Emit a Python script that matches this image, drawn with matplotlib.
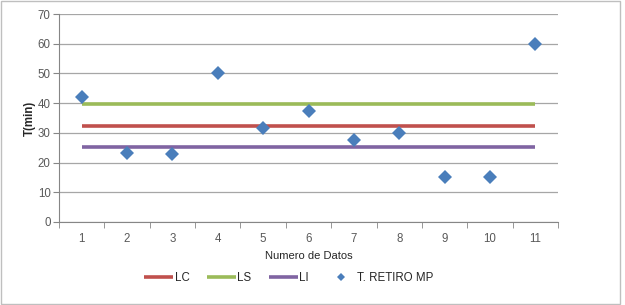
import matplotlib
matplotlib.use("Agg")
import matplotlib.pyplot as plt
from matplotlib.patches import Rectangle

plt.rcParams['font.family'] = ['Liberation Sans', 'DejaVu Sans']

x = [1, 2, 3, 4, 5, 6, 7, 8, 9, 10, 11]
t_retiro = [42, 23.3, 23, 50, 31.8, 37.4, 27.6, 30, 15, 15, 60]
lc = [32.3] * 11
ls = [39.6] * 11
li = [25.1] * 11

fs = 8.3
fig = plt.figure(figsize=(6.25, 3.05), dpi=100)
ax = fig.add_axes([59/625, 83/305, 499/625, 208/305])

ax.plot(x, lc, color='#c0504d', lw=2.6, label='LC', solid_capstyle='butt')
ax.plot(x, ls, color='#9bbb59', lw=2.6, label='LS', solid_capstyle='butt')
ax.plot(x, li, color='#8064a2', lw=2.6, label='LI', solid_capstyle='butt')
ax.plot(x, t_retiro, linestyle='none', marker='D', color='#4a7ebb', markersize=6.8,
        label='T. RETIRO MP', markeredgewidth=0)

ax.set_xlim(0.5, 11.5)
ax.set_ylim(0, 70)
ax.set_yticks(range(0, 71, 10))
ax.set_xticks(x)
ax.set_xticks([i + 0.5 for i in range(0, 12)], minor=True)
ax.tick_params(axis='x', which='major', length=0, pad=8, labelsize=fs, colors='#595959')
ax.tick_params(axis='x', which='minor', length=4, color='#868686', direction='out')
ax.tick_params(axis='y', length=4, color='#868686', labelsize=fs, colors='#595959', pad=2)
ax.grid(axis='y', color='#a6a6a6', lw=0.9)
ax.set_axisbelow(True)
for s in ['top', 'right']:
    ax.spines[s].set_visible(False)
ax.spines['left'].set_color('#868686')
ax.spines['bottom'].set_color('#868686')
ax.set_ylabel('T(min)', fontsize=fs, fontweight='bold', color='#262626', labelpad=1)
ax.set_xlabel('Numero de Datos', fontsize=8, color='#262626', labelpad=4)

leg = fig.legend(loc='center', bbox_to_anchor=(0.462, 0.088), ncol=4, frameon=False,
                 fontsize=fs, handlelength=2.5, columnspacing=1.5, handletextpad=0.15,
                 markerscale=0.65)
for txt in leg.get_texts():
    txt.set_color('#262626')

fig.add_artist(Rectangle((0.002, 0.004), 0.99, 0.992, transform=fig.transFigure,
                         fill=False, edgecolor='#bfbfbf', lw=1))

fig.savefig('out.png', dpi=100)
